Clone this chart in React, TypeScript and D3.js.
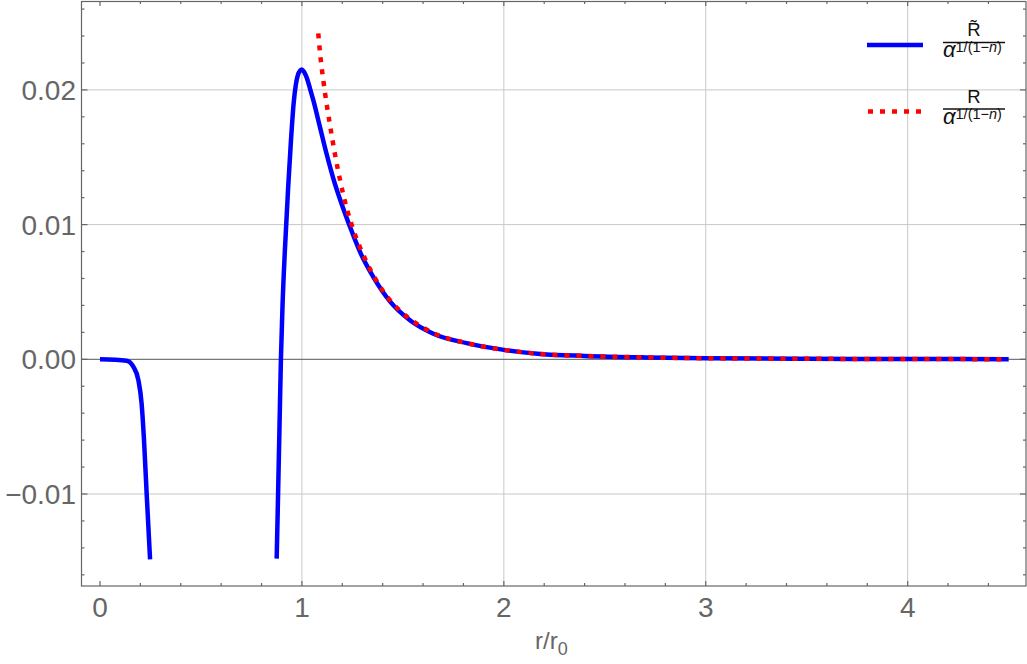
import React from 'react';
import * as d3 from 'd3';

// Blue curve (R tilde), two branches because it leaves the plot range in between
const blueLeftX = [0, 0.132, 0.165, 0.19, 0.206, 0.218, 0.231, 0.248];
const blueLeftY = [0, -0.0001, -0.00055, -0.00154, -0.00327, -0.006, -0.00995, -0.01485];

const blueRightX = [0.875, 0.882, 0.889, 0.896, 0.904, 0.916, 0.932, 0.946, 0.959, 0.97, 0.982, 0.992, 1.0, 1.012, 1.024, 1.04, 1.057, 1.09, 1.123, 1.156, 1.195, 1.234, 1.29, 1.354, 1.436, 1.535, 1.651, 1.816, 2.0, 2.18, 2.4, 2.7, 3.0, 3.5, 4.0, 4.5];
const blueRightY = [-0.0148, -0.01, -0.005, 0, 0.004, 0.0082, 0.0128, 0.0163, 0.019, 0.0204, 0.0212, 0.02145, 0.02152, 0.0213, 0.0209, 0.0201, 0.0192, 0.0172, 0.0152, 0.0134, 0.0116, 0.01, 0.0079, 0.0061, 0.0043, 0.0029, 0.0019, 0.0012, 0.0007, 0.0004, 0.00025, 0.00014, 0.00008, 0.00004, 0.00002, 0.00001];

// Red dotted curve (R)
const redX = [1.081, 1.09, 1.106, 1.123, 1.139, 1.164, 1.189, 1.222, 1.255, 1.321, 1.387, 1.486, 1.535, 1.651, 1.816, 2.0, 2.18, 2.4, 2.7, 3.0, 3.5, 4.0, 4.5];
const redY = [0.0242, 0.0227, 0.0207, 0.0189, 0.0174, 0.0152, 0.0133, 0.0112, 0.0096, 0.0072, 0.0054, 0.0036, 0.0030, 0.00195, 0.0012, 0.0007, 0.0004, 0.00025, 0.00014, 0.00008, 0.00004, 0.00002, 0.00001];

const xMajor = [0, 1, 2, 3, 4];
const xLabels = ['0', '1', '2', '3', '4'];
const yMajor = [-0.01, 0, 0.01, 0.02];
const yLabels = ['\u22120.01', '0.00', '0.01', '0.02'];

const W = 1027;
const H = 664;
const font = '"Liberation Sans", Arial, sans-serif';
const axisColor = '#666666';

export default function App() {
  const x = d3.scaleLinear().domain([-0.0916, 4.586]).range([81.5, 1026]);
  const y = d3.scaleLinear().domain([-0.01683, 0.0266]).range([586, 1]);

  const line = d3
    .line<[number, number]>()
    .x(d => x(d[0]))
    .y(d => y(d[1]))
    .curve(d3.curveMonotoneX);

  const zip = (xs: number[], ys: number[]) => xs.map((v, i) => [v, ys[i]] as [number, number]);

  const xMinor = d3.range(0, 4.61, 0.2).filter(v => x(v) <= 1026);
  const yMinor = d3.range(-0.016, 0.0265, 0.002);

  const [x0, x1] = x.range();
  const [y0, y1] = y.range();

  return (
    <svg width={W} height={H} style={{ position: 'absolute', left: 0, top: 0, background: '#fff' }}>
      {/* grid */}
      <g stroke="#c8c8c8" strokeWidth={1}>
        {xMajor.filter(v => v !== 0).map(v => (
          <line key={'gx' + v} x1={x(v)} x2={x(v)} y1={y1} y2={y0} />
        ))}
        {yMajor.filter(v => v !== 0).map(v => (
          <line key={'gy' + v} x1={x0} x2={x1} y1={y(v)} y2={y(v)} />
        ))}
      </g>
      {/* axis at zero */}
      <line x1={x0} x2={x1} y1={y(0)} y2={y(0)} stroke="#555" strokeWidth={1} />

      {/* curves */}
      <path d={line(zip(blueLeftX, blueLeftY)) || ''} fill="none" stroke="#0000ff" strokeWidth={4.5} />
      <path d={line(zip(blueRightX, blueRightY)) || ''} fill="none" stroke="#0000ff" strokeWidth={4.5} />
      <path d={line(zip(redX, redY)) || ''} fill="none" stroke="#ff0000" strokeWidth={4.5} strokeDasharray="5,7" />

      {/* frame */}
      <rect x={x0} y={y1 + 0.5} width={x1 - x0} height={y0 - y1 - 0.5} fill="none" stroke={axisColor} strokeWidth={1.2} />

      {/* ticks */}
      <g stroke={axisColor} strokeWidth={1.2}>
        {xMinor.map(v => {
          const major = Math.abs(v - Math.round(v)) < 1e-6;
          const len = major ? 5 : 3;
          return (
            <g key={'tx' + v}>
              <line x1={x(v)} x2={x(v)} y1={y0} y2={y0 - len} />
              <line x1={x(v)} x2={x(v)} y1={y1} y2={y1 + len} />
            </g>
          );
        })}
        {yMinor.map(v => {
          const major = Math.abs(v * 100 - Math.round(v * 100)) < 1e-6;
          const len = major ? 6 : 3;
          return (
            <g key={'ty' + v}>
              <line x1={x0} x2={x0 + len} y1={y(v)} y2={y(v)} />
              <line x1={x1} x2={x1 - len} y1={y(v)} y2={y(v)} />
            </g>
          );
        })}
      </g>

      {/* tick labels */}
      <g fill={axisColor} fontFamily={font} fontSize={28}>
        {xMajor.map((v, i) => (
          <text key={'lx' + v} x={x(v)} y={617} textAnchor="middle">
            {xLabels[i]}
          </text>
        ))}
        {yMajor.map((v, i) => (
          <text key={'ly' + v} x={76} y={y(v) + 10} textAnchor="end">
            {yLabels[i]}
          </text>
        ))}
      </g>

      {/* axis label */}
      <text x={535} y={649} fill={axisColor} fontFamily={font} fontSize={24}>
        r/r
        <tspan fontSize={18} dy={6}>0</tspan>
      </text>

      {/* legend */}
      <line x1={867} x2={923} y1={45} y2={45} stroke="#0000ff" strokeWidth={4.5} />
      <line x1={868} x2={923} y1={111.5} y2={111.5} stroke="#ff0000" strokeWidth={4.5} strokeDasharray="5,7" />
      {[
        { num: 'R\u0303', dy: 0 },
        { num: 'R', dy: 66.5 },
      ].map(item => (
        <g key={item.num} fontFamily={font} fill="#111">
          <text x={974} y={36 + item.dy} textAnchor="middle" fontSize={18.5}>
            {item.num}
          </text>
          <line x1={943} x2={1005} y1={42.5 + item.dy} y2={42.5 + item.dy} stroke="#111" strokeWidth={1.4} />
          <text x={943} y={57 + item.dy} fontSize={22}>
            <tspan fontStyle="italic">{'\u03b1'}</tspan>
            <tspan fontSize={14.5} dy={-5}>
              {'1/(1\u2212'}
              <tspan fontStyle="italic">n</tspan>
              {')'}
            </tspan>
          </text>
        </g>
      ))}
    </svg>
  );
}
